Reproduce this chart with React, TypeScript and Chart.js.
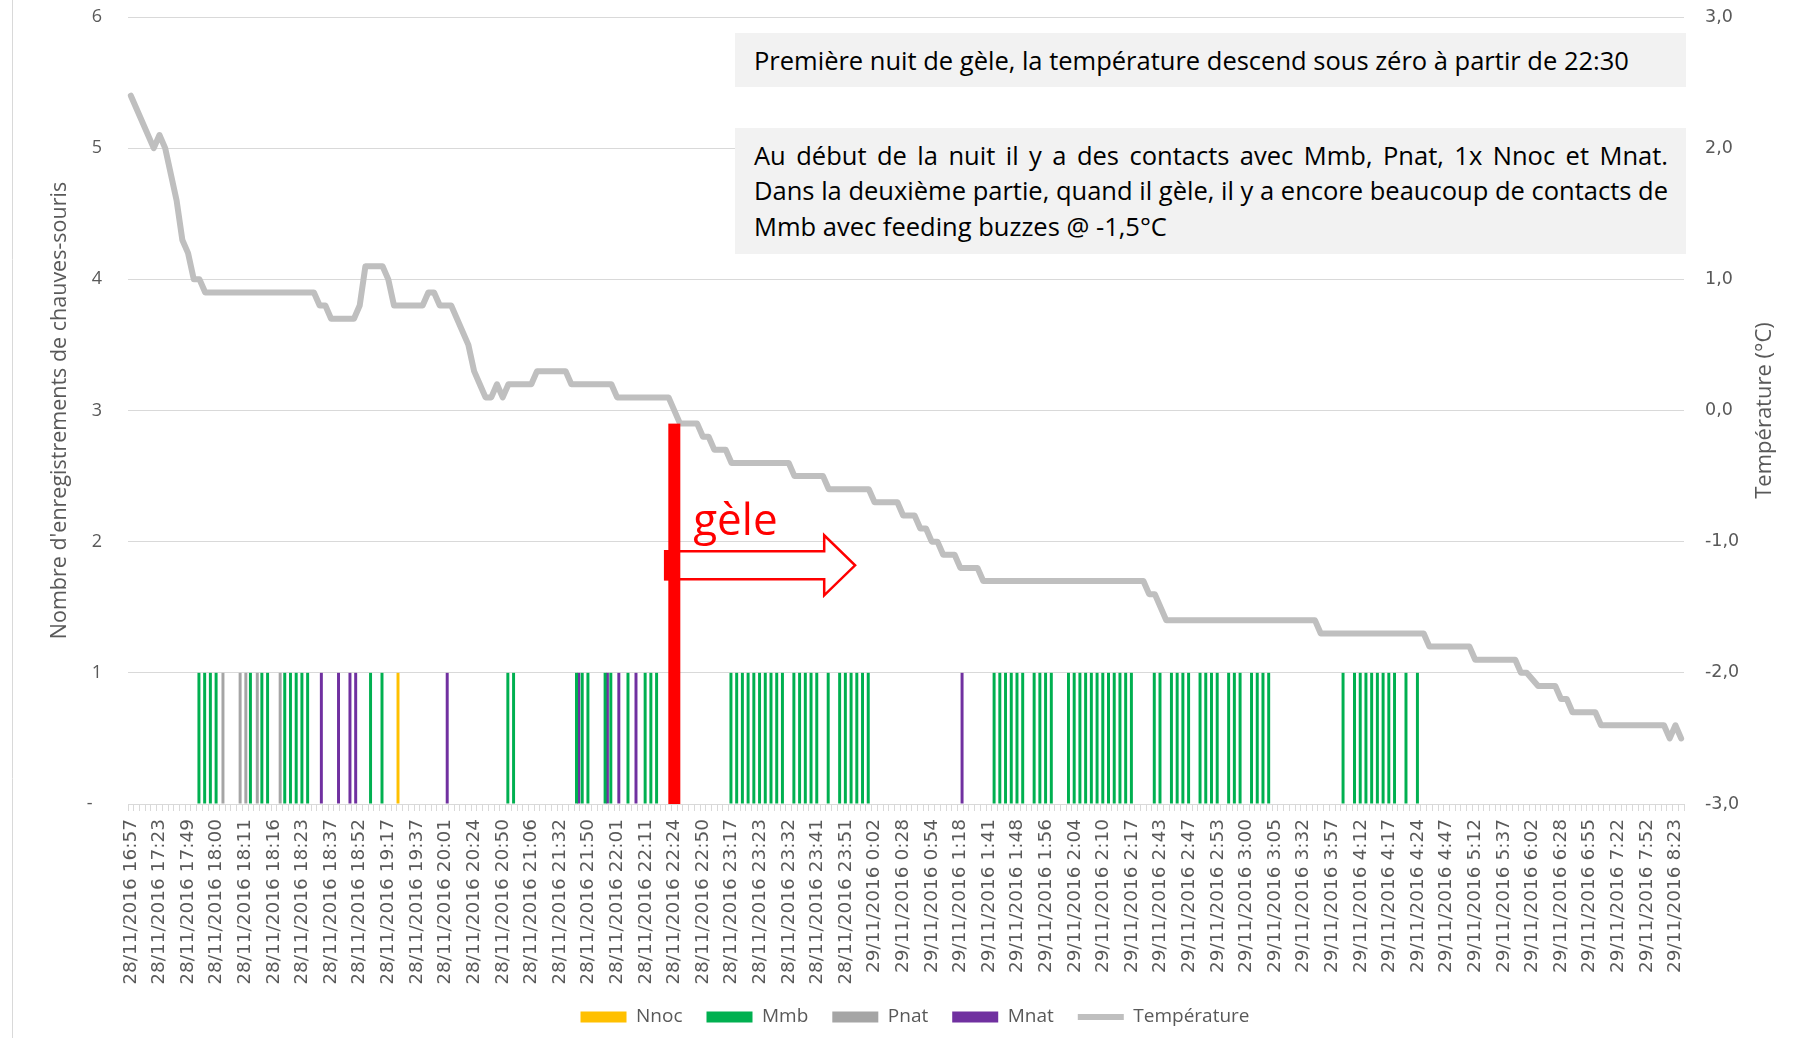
import React, { useEffect, useRef } from "react";
import { Chart, registerables } from "chart.js";

Chart.register(...registerables);

// ---------- data ----------
const tickLabels: string[] = [
  "28/11/2016 16:57", "28/11/2016 17:23", "28/11/2016 17:49", "28/11/2016 18:00", "28/11/2016 18:11",
  "28/11/2016 18:16", "28/11/2016 18:23", "28/11/2016 18:37", "28/11/2016 18:52", "28/11/2016 19:17",
  "28/11/2016 19:37", "28/11/2016 20:01", "28/11/2016 20:24", "28/11/2016 20:50", "28/11/2016 21:06",
  "28/11/2016 21:32", "28/11/2016 21:50", "28/11/2016 22:01", "28/11/2016 22:11", "28/11/2016 22:24",
  "28/11/2016 22:50", "28/11/2016 23:17", "28/11/2016 23:23", "28/11/2016 23:32", "28/11/2016 23:41",
  "28/11/2016 23:51", "29/11/2016 0:02", "29/11/2016 0:28", "29/11/2016 0:54", "29/11/2016 1:18",
  "29/11/2016 1:41", "29/11/2016 1:48", "29/11/2016 1:56", "29/11/2016 2:04", "29/11/2016 2:10",
  "29/11/2016 2:17", "29/11/2016 2:43", "29/11/2016 2:47", "29/11/2016 2:53", "29/11/2016 3:00",
  "29/11/2016 3:05", "29/11/2016 3:32", "29/11/2016 3:57", "29/11/2016 4:12", "29/11/2016 4:17",
  "29/11/2016 4:24", "29/11/2016 4:47", "29/11/2016 5:12", "29/11/2016 5:37", "29/11/2016 6:02",
  "29/11/2016 6:28", "29/11/2016 6:55", "29/11/2016 7:22", "29/11/2016 7:52", "29/11/2016 8:23",
];
const categoryCount = 272;
const labelEvery = 5;

// category indices holding one recording (value 1)
const nnocIdx = [47];
const mmbIdx = [
  12, 13, 14, 15, 21, 23, 24, 27, 28, 29, 30, 31, 42, 44, 66, 67, 78, 79, 80, 83, 84, 87, 90, 91, 92,
  105, 106, 107, 108, 109, 110, 111, 112, 113, 114,
  116, 117, 118, 119, 120, 122,
  124, 125, 126, 127, 128, 129,
  151, 152, 153, 154, 155, 156, 158, 159, 160, 161,
  164, 165, 166, 167, 168, 169, 170, 171, 172, 173, 174, 175,
  179, 180, 182, 183, 184, 185, 187, 188, 189, 190, 192, 193, 194, 196, 197, 198, 199,
  212, 214, 215, 216, 217, 218, 219, 220, 221, 223, 225,
];
const pnatIdx = [16, 19, 20, 22, 26];
const mnatIdx = [33, 36, 38, 39, 55, 78, 83, 85, 88, 145];

// temperature (°C) read at its category index
const tempIndex = [
  0, 4, 5, 6, 7, 8, 9, 10, 11, 12, 13, 32, 33, 34, 35, 39, 40, 41, 44, 45,
  46, 51, 52, 53, 54, 56, 59, 60, 61, 62, 63, 64, 65, 66, 70, 71, 76, 77, 84, 85,
  94, 96, 99, 100, 101, 102, 104, 105, 115, 116, 121, 122, 129, 130, 134, 135, 137, 138, 139, 140,
  141, 142, 144, 145, 148, 149, 177, 178, 179, 181, 207, 208, 226, 227, 234, 235, 242, 243, 244, 246,
  249, 250, 251, 252, 256, 257, 268, 269, 270, 271,
];
const tempValue = [
  2.4, 2.0, 2.1, 2.0, 1.8, 1.6, 1.3, 1.2, 1.0, 1.0, 0.9, 0.9, 0.8, 0.8, 0.7, 0.7, 0.8, 1.1, 1.1, 1.0,
  0.8, 0.8, 0.9, 0.9, 0.8, 0.8, 0.5, 0.3, 0.2, 0.1, 0.1, 0.2, 0.1, 0.2, 0.2, 0.3, 0.3, 0.2, 0.2, 0.1,
  0.1, -0.1, -0.1, -0.2, -0.2, -0.3, -0.3, -0.4, -0.4, -0.5, -0.5, -0.6, -0.6, -0.7, -0.7, -0.8, -0.8, -0.9, -0.9, -1.0,
  -1.0, -1.1, -1.1, -1.2, -1.2, -1.3, -1.3, -1.4, -1.4, -1.6, -1.6, -1.7, -1.7, -1.8, -1.8, -1.9, -1.9, -2.0, -2.0, -2.1,
  -2.1, -2.2, -2.2, -2.3, -2.3, -2.4, -2.4, -2.5, -2.4, -2.5,
];

// annotation ("gèle" marker) in data units
const gelIndex = 95;
const gelTop = 2.9;
const arrowFrom = 93.4;
const arrowHeadAt = 121.2;
const arrowTo = 126.6;
const arrowLevel = 1.82;
const geleTextIndex = 98.3;
const geleTextLevel = 2.05;

const note1 = "Première nuit de gèle, la température descend sous zéro à partir de 22:30";
const note2Lines = [
  "Au début de la nuit il y a des contacts avec Mmb, Pnat, 1x Nnoc et Mnat.",
  "Dans la deuxième partie, quand il gèle, il y a encore beaucoup de contacts de",
  "Mmb avec feeding buzzes @ -1,5°C",
];

const GREY_TEXT = "#595959";
const GRID = "#D9D9D9";
const CLEAR = "rgba(0,0,0,0)";

const annotationPlugin = {
  id: "geleAnnotation",
  beforeDraw(chart: any) {
    const { ctx } = chart;
    ctx.save();
    ctx.strokeStyle = GRID;
    ctx.lineWidth = 1;
    ctx.beginPath();
    ctx.moveTo(12.5, 0);
    ctx.lineTo(12.5, chart.height);
    ctx.stroke();
    ctx.restore();
  },
  afterDatasetsDraw(chart: any) {
    const { ctx } = chart;
    const xs = chart.scales.x;
    const ys = chart.scales.y;
    const x0 = xs.getPixelForValue(arrowFrom);
    const xb = xs.getPixelForValue(arrowHeadAt);
    const xt = xs.getPixelForValue(arrowTo);
    const yc = ys.getPixelForValue(arrowLevel);
    const bx = xs.getPixelForValue(gelIndex);
    ctx.save();
    ctx.beginPath();
    ctx.moveTo(x0, yc - 14);
    ctx.lineTo(xb, yc - 14);
    ctx.lineTo(xb, yc - 30);
    ctx.lineTo(xt, yc);
    ctx.lineTo(xb, yc + 30);
    ctx.lineTo(xb, yc + 14);
    ctx.lineTo(x0, yc + 14);
    ctx.closePath();
    ctx.fillStyle = "#FFFFFF";
    ctx.fill();
    ctx.strokeStyle = "#FF0000";
    ctx.lineWidth = 2.5;
    ctx.stroke();
    ctx.fillStyle = "#FF0000";
    ctx.fillRect(x0 - 1, yc - 15, bx - x0, 30);
    const yTop = ys.getPixelForValue(gelTop);
    const yBot = ys.getPixelForValue(0);
    ctx.fillRect(bx - 6, yTop, 12, yBot - yTop);
    ctx.font = '44px "Open Sans"';
    ctx.textAlign = "left";
    ctx.textBaseline = "alphabetic";
    ctx.fillText("gèle", xs.getPixelForValue(geleTextIndex), ys.getPixelForValue(geleTextLevel));
    ctx.restore();
  },
  afterDraw(chart: any) {
    const { ctx, chartArea } = chart;
    ctx.save();
    ctx.translate(chartArea.right + 81, (chartArea.top + chartArea.bottom) / 2);
    ctx.rotate(-Math.PI / 2);
    ctx.font = '22px "Open Sans"';
    ctx.fillStyle = GREY_TEXT;
    ctx.textAlign = "center";
    ctx.textBaseline = "middle";
    ctx.fillText("Température (°C)", 0, 0);
    ctx.restore();
  },
};

export default function App() {
  const canvasRef = useRef<HTMLCanvasElement>(null);

  useEffect(() => {
    const canvas = canvasRef.current;
    if (!canvas) return;
    const labels = Array.from({ length: categoryCount }, (_, i) =>
      i % labelEvery === 0 ? tickLabels[i / labelEvery] ?? "" : ""
    );
    const toSeries = (idx: number[]) => {
      const s = new Set(idx);
      return labels.map((_, i) => (s.has(i) ? 1 : null));
    };
    const tempSeries: (number | null)[] = labels.map(() => null);
    tempIndex.forEach((k, i) => {
      tempSeries[k] = tempValue[i];
    });
    const barCommon = {
      type: "bar" as const,
      categoryPercentage: 0.8,
      barPercentage: 2.6,
      borderWidth: 0,
      pointStyle: "rect",
      xAxisID: "x",
      yAxisID: "y",
    };

    const chart = new Chart(canvas, {
      type: "bar",
      data: {
        labels,
        datasets: [
          { ...barCommon, label: "Nnoc", data: toSeries(nnocIdx), backgroundColor: "#FFC000" },
          { ...barCommon, label: "Mmb", data: toSeries(mmbIdx), backgroundColor: "#00B050" },
          { ...barCommon, label: "Pnat", data: toSeries(pnatIdx), backgroundColor: "#A5A5A5" },
          { ...barCommon, label: "Mnat", data: toSeries(mnatIdx), backgroundColor: "#7030A0" },
          {
            type: "line",
            label: "Température",
            data: tempSeries,
            xAxisID: "x",
            yAxisID: "yT",
            spanGaps: true,
            borderColor: "#BFBFBF",
            backgroundColor: "#BFBFBF",
            borderWidth: 6,
            pointRadius: 0,
            pointHoverRadius: 0,
            tension: 0,
            borderCapStyle: "round",
            borderJoinStyle: "round",
            pointStyle: "line",
            order: -1,
          } as any,
        ],
      },
      options: {
        animation: false,
        responsive: false,
        maintainAspectRatio: false,
        events: [],
        layout: { padding: { left: 34, right: -2, top: 17, bottom: 1.5 } },
        plugins: {
          tooltip: { enabled: false },
          legend: {
            position: "bottom",
            labels: {
              usePointStyle: true,
              pointStyleWidth: 46,
              boxHeight: 11,
              padding: 24,
              color: GREY_TEXT,
              font: { family: "Open Sans", size: 19 },
              sort: (a: any, b: any) => a.datasetIndex - b.datasetIndex,
            },
          },
        },
        scales: {
          x: {
            type: "category",
            offset: true,
            grid: { offset: true, drawOnChartArea: false, drawTicks: true, tickLength: 7, color: GRID },
            border: { display: true, color: GRID },
            ticks: {
              autoSkip: false,
              minRotation: 90,
              maxRotation: 90,
              padding: 8,
              color: GREY_TEXT,
              font: { family: "DejaVu Sans", size: 18.5 },
            },
            afterFit: (s: any) => {
              s.height = 179.5;
            },
          },
          y: {
            position: "left",
            min: 0,
            max: 6,
            grid: { color: GRID, drawTicks: true, tickLength: 26, tickColor: CLEAR },
            border: { display: false },
            ticks: {
              stepSize: 1,
              padding: 0,
              color: GREY_TEXT,
              font: { family: "Open Sans", size: 18 },
              callback: (v: any) => (Number(v) === 0 ? "-  " : String(v)),
            },
            title: {
              display: true,
              text: "Nombre d'enregistrements de chauves-souris",
              color: GREY_TEXT,
              font: { family: "Open Sans", size: 21.5 },
              padding: { top: 13, bottom: 0 },
            },
            afterFit: (s: any) => {
              s.width = 94;
            },
          },
          yT: {
            position: "right",
            axis: "y",
            min: -3,
            max: 3,
            grid: { drawOnChartArea: false, drawTicks: true, tickLength: 21, tickColor: CLEAR },
            border: { display: false },
            ticks: {
              stepSize: 1,
              padding: 0,
              color: GREY_TEXT,
              font: { family: "DejaVu Sans", size: 17.5 },
              callback: (v: any) => Number(v).toFixed(1).replace(".", ","),
            },
            afterFit: (s: any) => {
              s.width = 112;
            },
          },
        },
      } as any,
      plugins: [annotationPlugin],
    });
    return () => chart.destroy();
  }, []);

  const boxText: React.CSSProperties = {
    fontFamily: '"Open Sans"',
    fontSize: 25.5,
    color: "#000",
    whiteSpace: "nowrap",
  };

  return (
    <div style={{ position: "absolute", left: 0, top: 0, width: 1794, height: 1038, background: "#fff" }}>
      <canvas ref={canvasRef} width={1794} height={1038} style={{ display: "block", width: 1794, height: 1038 }} />
      <div
        style={{
          position: "absolute",
          left: 734.5,
          top: 33,
          width: 951.5,
          height: 54,
          background: "#F2F2F2",
          display: "flex",
          alignItems: "center",
          boxSizing: "border-box",
          paddingLeft: 19.5,
          ...boxText,
        }}
      >
        {note1}
      </div>
      <div
        style={{
          position: "absolute",
          left: 734.5,
          top: 128,
          width: 951.5,
          height: 126,
          background: "#F2F2F2",
          boxSizing: "border-box",
          paddingLeft: 19.5,
          paddingRight: 18,
          paddingTop: 9.85,
          ...boxText,
          lineHeight: "35.5px",
        }}
      >
        {note2Lines.map((line, i) => (
          <div
            key={i}
            style={{
              textAlign: i < note2Lines.length - 1 ? "justify" : "left",
              textAlignLast: i < note2Lines.length - 1 ? "justify" : "left",
            }}
          >
            {line}
          </div>
        ))}
      </div>
    </div>
  );
}
